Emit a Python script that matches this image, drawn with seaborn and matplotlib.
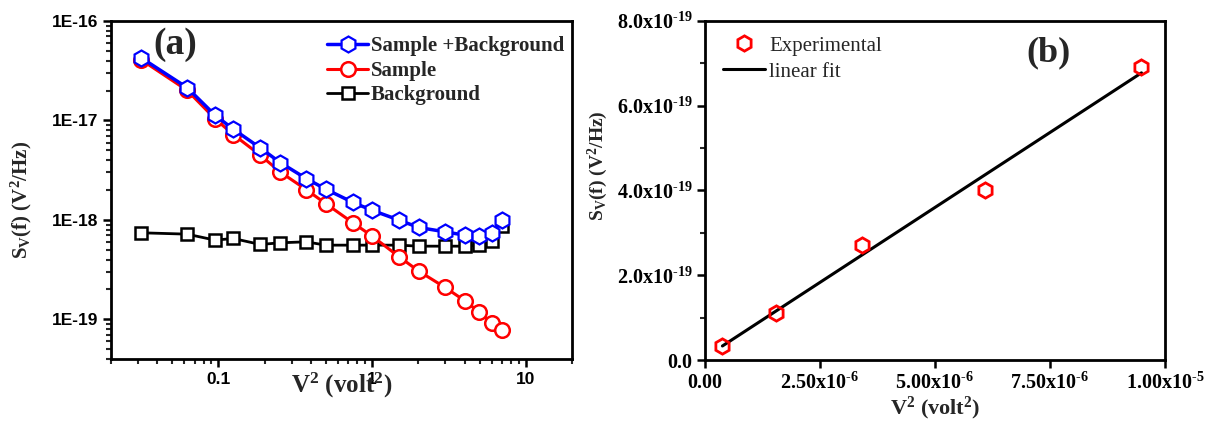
import numpy as np
import matplotlib
matplotlib.use("Agg")
import matplotlib.pyplot as plt
import matplotlib.ticker as mticker
import seaborn as sns

# ---------------- data ----------------
# panel (a)
v2_a = [0.0313, 0.0625, 0.095, 0.125, 0.187, 0.252, 0.372, 0.499, 0.75, 1.0,
        1.5, 2.01, 2.98, 4.01, 4.99, 6.04, 7.04]
s_sample_bg = [4.28e-17, 2.14e-17, 1.13e-17, 8.17e-18, 5.30e-18, 3.78e-18, 2.61e-18,
               2.04e-18, 1.50e-18, 1.25e-18, 9.95e-19, 8.40e-19, 7.60e-19, 7.03e-19,
               6.88e-19, 7.31e-19, 9.95e-19]
s_sample = [4.09e-17, 2.01e-17, 1.04e-17, 7.22e-18, 4.48e-18, 3.04e-18, 2.02e-18,
            1.46e-18, 9.36e-19, 6.88e-19, 4.26e-19, 3.06e-19, 2.10e-19, 1.54e-19,
            1.18e-19, 9.12e-20, 7.82e-20]
s_background = [7.43e-19, 7.20e-19, 6.27e-19, 6.51e-19, 5.67e-19, 5.89e-19, 6.03e-19,
                5.58e-19, 5.58e-19, 5.58e-19, 5.58e-19, 5.45e-19, 5.45e-19, 5.45e-19,
                5.58e-19, 6.17e-19, 8.67e-19]
labels_a = ["Sample +Background", "Sample", "Background"]
xticks_a = [0.1, 1, 10]
xticklabels_a = ["0.1", "1", "10"]
yticks_a = [1e-19, 1e-18, 1e-17, 1e-16]
yticklabels_a = ["1E-19", "1E-18", "1E-17", "1E-16"]

# panel (b)
v2_b = [3.8e-7, 1.54e-6, 3.41e-6, 6.08e-6, 9.49e-6]
s_b = [3.3e-20, 1.11e-19, 2.72e-19, 4.02e-19, 6.91e-19]
labels_b = ["Experimental", "linear fit"]
xticks_b = [0, 2.5e-6, 5e-6, 7.5e-6, 1e-5]
yticks_b = [0, 2e-19, 4e-19, 6e-19, 8e-19]
yminor_b = [1e-19, 3e-19, 5e-19, 7e-19]

# ---------------- style ----------------
sns.set_style("ticks")
plt.rcParams["font.family"] = ["Liberation Serif", "DejaVu Serif"]
plt.rcParams["mathtext.fontset"] = "custom"
plt.rcParams["mathtext.rm"] = "Liberation Serif:bold"
plt.rcParams["mathtext.bf"] = "Liberation Serif:bold"
plt.rcParams["mathtext.it"] = "Liberation Serif:bold:italic"
plt.rcParams["mathtext.default"] = "rm"
plt.rcParams["axes.unicode_minus"] = False

BLUE = "#0000FF"
RED = "#FF0000"
HYPHEN = "\u2010"

fig = plt.figure(figsize=(12.15, 4.34), dpi=100)
ax1 = fig.add_axes([0.0914, 0.1728, 0.3794, 0.7788])
ax2 = fig.add_axes([0.5802, 0.1705, 0.3786, 0.7815])

# ---------------- panel (a) ----------------
sns.lineplot(x=v2_a, y=s_background, ax=ax1, color="black", lw=2, marker="s",
             markersize=9, markerfacecolor="white", markeredgecolor="black",
             markeredgewidth=1.8, label=labels_a[2], errorbar=None, sort=False)
sns.lineplot(x=v2_a, y=s_sample, ax=ax1, color=RED, lw=2.2, marker="o",
             markersize=10.5, markerfacecolor="white", markeredgecolor=RED,
             markeredgewidth=1.8, label=labels_a[1], errorbar=None, sort=False)
sns.lineplot(x=v2_a, y=s_sample_bg, ax=ax1, color=BLUE, lw=2.5, marker="h",
             markersize=11.5, markerfacecolor="white", markeredgecolor=BLUE,
             markeredgewidth=1.6, label=labels_a[0], errorbar=None, sort=False)

ax1.set_xscale("log")
ax1.set_yscale("log")
ax1.set_xlim(0.02, 20)
ax1.set_ylim(4e-20, 1e-16)
ax1.xaxis.set_major_locator(mticker.FixedLocator(xticks_a))
ax1.xaxis.set_major_formatter(mticker.FixedFormatter(xticklabels_a))
ax1.yaxis.set_major_locator(mticker.FixedLocator(yticks_a))
ax1.yaxis.set_major_formatter(mticker.FixedFormatter(yticklabels_a))
ax1.xaxis.set_minor_locator(mticker.LogLocator(base=10, subs=np.arange(2, 10), numticks=20))
ax1.yaxis.set_minor_locator(mticker.LogLocator(base=10, subs=np.arange(2, 10), numticks=20))
ax1.xaxis.set_minor_formatter(mticker.NullFormatter())
ax1.yaxis.set_minor_formatter(mticker.NullFormatter())
ax1.tick_params(axis="both", which="major", labelsize=12.5)
for lab in ax1.get_xticklabels() + ax1.get_yticklabels():
    lab.set_family("Liberation Sans")
    lab.set_weight("bold")

ax1.set_xlabel("V$^2$ (volt$^2$)", fontsize=18, fontweight="bold")
ax1.xaxis.set_label_coords(0.5, -0.035)
ax1.set_ylabel("S$_\\mathrm{V}$(f) (V$^2$/Hz)", fontsize=15, fontweight="bold")
ax1.yaxis.set_label_coords(-0.168, 0.472)

h, l = ax1.get_legend_handles_labels()
order = [l.index(n) for n in labels_a]
ax1.legend([h[i] for i in order], [l[i] for i in order], loc="upper left",
           bbox_to_anchor=(0.468, 0.955), frameon=False, borderpad=0, borderaxespad=0,
           handlelength=2.0, handletextpad=0.1, labelspacing=0.22,
           prop={"family": "Liberation Serif", "weight": "bold", "size": 15})
ax1.text(0.139, 0.93, "(a)", transform=ax1.transAxes, ha="center", va="center",
         fontsize=27, fontweight="bold")

# ---------------- panel (b) ----------------
slope, intercept = np.polyfit(v2_b, s_b, 1)
fit_x = [v2_b[0], v2_b[-1]]
fit_y = [slope * x + intercept for x in fit_x]
sns.lineplot(x=fit_x, y=fit_y, ax=ax2, color="black", lw=2.2, label=labels_b[1],
             errorbar=None, sort=False)
sns.lineplot(x=v2_b, y=s_b, ax=ax2, linestyle="", marker="h", markersize=11,
             markerfacecolor="none", markeredgecolor=RED, markeredgewidth=2,
             color=RED, label=labels_b[0], errorbar=None, sort=False)

ax2.set_xlim(0, 1e-5)
ax2.set_ylim(0, 8e-19)
ax2.xaxis.set_major_locator(mticker.FixedLocator(xticks_b))
ax2.yaxis.set_major_locator(mticker.FixedLocator(yticks_b))
ax2.yaxis.set_minor_locator(mticker.FixedLocator(yminor_b))


def fmt_bx(v, pos):
    if abs(v) < 1e-12:
        return "0.00"
    if v < 0:
        return ""
    e = int(np.floor(np.log10(v) + 1e-9))
    m = v / 10 ** e
    return f"{m:.2f}x10$^{{{HYPHEN}{abs(e)}}}$"


def fmt_by(v, pos):
    if abs(v) < 1e-25:
        return "0.0"
    return f"{v / 1e-19:.1f}x10$^{{{HYPHEN}19}}$"


ax2.xaxis.set_major_formatter(mticker.FuncFormatter(fmt_bx))
ax2.yaxis.set_major_formatter(mticker.FuncFormatter(fmt_by))
ax2.tick_params(axis="both", which="major", labelsize=14.5)
for lab in ax2.get_xticklabels() + ax2.get_yticklabels():
    lab.set_fontweight("bold")

ax2.set_xlabel("V$^2$ (volt$^2$)", fontsize=16, fontweight="bold", labelpad=1)
ax2.set_ylabel("S$_\\mathrm{V}$(f) (V$^2$/Hz)", fontsize=14, fontweight="bold")
ax2.yaxis.set_label_coords(-0.207, 0.572)

h2, l2 = ax2.get_legend_handles_labels()
order2 = [l2.index(n) for n in labels_b]
ax2.legend([h2[i] for i in order2], [l2[i] for i in order2], loc="upper left",
           bbox_to_anchor=(0.04, 0.955), frameon=False, borderpad=0, borderaxespad=0,
           handlelength=2.0, handletextpad=0.2, labelspacing=0.3,
           prop={"family": "Liberation Serif", "size": 15})
ax2.text(0.746, 0.905, "(b)", transform=ax2.transAxes, ha="center", va="center",
         fontsize=26, fontweight="bold")

# ---------------- common axes styling ----------------
for ax in (ax1, ax2):
    for sp in ax.spines.values():
        sp.set_visible(True)
        sp.set_linewidth(2)
        sp.set_color("black")
    ax.tick_params(axis="both", which="major", direction="out", length=6, width=1.8,
                   top=False, right=False, pad=3, colors="black")
    ax.tick_params(axis="both", which="minor", direction="out", length=3.5, width=1.5,
                   top=False, right=False)
    ax.set_facecolor("white")
    ax.grid(False)

fig.savefig("out.png", dpi=100, facecolor="white")
